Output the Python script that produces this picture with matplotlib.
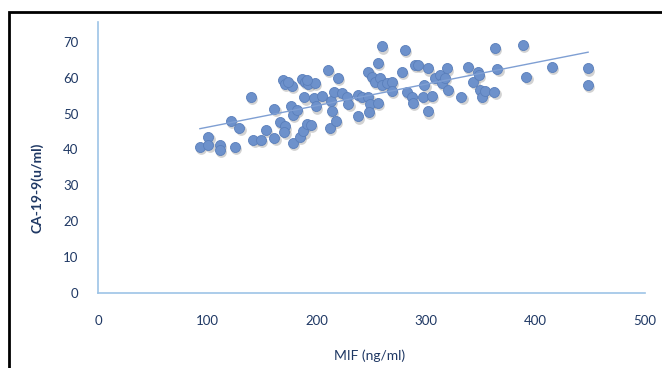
import matplotlib.pyplot as plt
from matplotlib.patches import Rectangle
import numpy as np

# MIF (ng/ml) vs CA-19-9 (u/ml)
mif = [93.2, 100.9, 100.9, 111.5, 111.5, 125.2, 121.6, 129.2, 139.9, 142.0,
       149.0, 153.6, 161.2, 161.2, 166.4, 170.9, 170.3, 177.9, 176.4, 177.9,
       181.6, 184.6, 187.7, 190.7, 194.7, 188.6, 197.7, 199.0, 204.5, 212.1,
       213.6, 217.6, 213.0, 216.0, 222.7, 227.3, 228.8, 237.4, 238.0, 241.0,
       247.1, 248.6, 247.7, 256.2, 210.5, 219.1,
       169.4, 170.9, 177.0, 174.0, 186.2, 189.2, 192.3, 198.4, 190.7,
       247.1, 256.2, 259.3, 250.2, 253.2, 257.8, 259.3, 263.9, 268.5, 268.5,
       277.6, 280.6, 282.2, 286.7, 288.2, 298.3, 297.4, 301.9, 305.6, 289.8,
       292.8, 301.9, 308.0, 312.6, 314.2, 317.2, 318.7, 320.2, 332.4, 338.5,
       343.1, 347.6, 348.3, 349.2, 350.7, 353.7, 362.3, 362.9, 365.3, 388.8,
       391.8, 414.7, 448.2, 448.2]
ca199 = [40.8, 43.6, 41.3, 41.3, 39.9, 40.8, 48.0, 46.1, 54.7, 42.7,
         42.7, 45.5, 43.1, 51.3, 47.6, 46.4, 44.8, 41.7, 52.0, 49.6,
         51.0, 43.6, 45.0, 47.0, 46.8, 54.5, 54.3, 52.0, 55.0, 45.9,
         50.8, 48.0, 53.6, 56.1, 55.7, 54.7, 52.6, 49.2, 55.2, 54.7,
         54.7, 52.6, 50.4, 52.9, 62.2, 59.9,
         59.4, 58.2, 57.8, 58.9, 59.6, 58.9, 58.2, 58.5, 59.4,
         61.7, 64.0, 68.7, 60.3, 58.9, 59.9, 58.0, 58.5, 58.9, 56.3,
         61.7, 67.8, 56.1, 54.7, 52.9, 58.0, 54.7, 50.6, 55.0, 63.6,
         63.6, 62.6, 59.9, 60.8, 58.5, 59.9, 62.6, 56.6, 54.7, 62.9,
         58.9, 61.7, 60.8, 56.6, 54.7, 56.3, 56.1, 68.2, 62.5, 69.2,
         60.3, 62.9, 62.6, 58.0]

x_ticks = [0, 100, 200, 300, 400, 500]
y_ticks = [0, 10, 20, 30, 40, 50, 60, 70]

txt_col = "#1f3864"
axis_col = "#9dc3e6"
dot_col = "#6d91cb"

fig = plt.figure(figsize=(6.62, 3.68), dpi=100)
ax = fig.add_axes([0.148, 0.204, 0.826, 0.736])

x = np.array(mif)
y = np.array(ca199)

# soft shadow under the markers, excel style
ax.scatter(x + 1.2, y - 0.6, s=60, color="#808080", alpha=0.35, linewidths=0, zorder=2)
ax.scatter(x, y, s=52, color=dot_col, edgecolors="#5a7fbb", linewidths=0.6, zorder=3)

# linear trendline
k, b = np.polyfit(x, y, 1)
xs = np.array([x.min(), x.max()])
ax.plot(xs, k * xs + b, color="#7f9fd3", linewidth=1.0, zorder=4)

ax.set_xlim(0, 500)
ax.set_ylim(0, 75.5)
ax.set_xticks(x_ticks)
ax.set_yticks(y_ticks)
ax.tick_params(length=0, colors=txt_col, labelsize=9.5)
ax.tick_params(axis="x", pad=16)
ax.tick_params(axis="y", pad=14)
for lab in ax.get_xticklabels() + ax.get_yticklabels():
    lab.set_family("Lato")

for s in ["top", "right"]:
    ax.spines[s].set_visible(False)
for s in ["left", "bottom"]:
    ax.spines[s].set_color(axis_col)
    ax.spines[s].set_linewidth(1.2)

ax.set_xlabel("MIF (ng/ml)", color=txt_col, fontsize=10, family="Lato")
ax.set_ylabel("CA-19-9(u/ml)", color=txt_col, fontsize=10, family="Lato",
              fontweight="bold")
ax.xaxis.set_label_coords(0.497, -0.21)
ax.yaxis.set_label_coords(-0.1, 0.387)

# black frame around the chart (left and top visible)
fig.add_artist(Rectangle((9 / 662, -0.1), 1.2, 1 - 12 / 368 + 0.1,
                         transform=fig.transFigure, fill=False,
                         edgecolor="black", linewidth=2))

fig.savefig("out.png", dpi=100)
